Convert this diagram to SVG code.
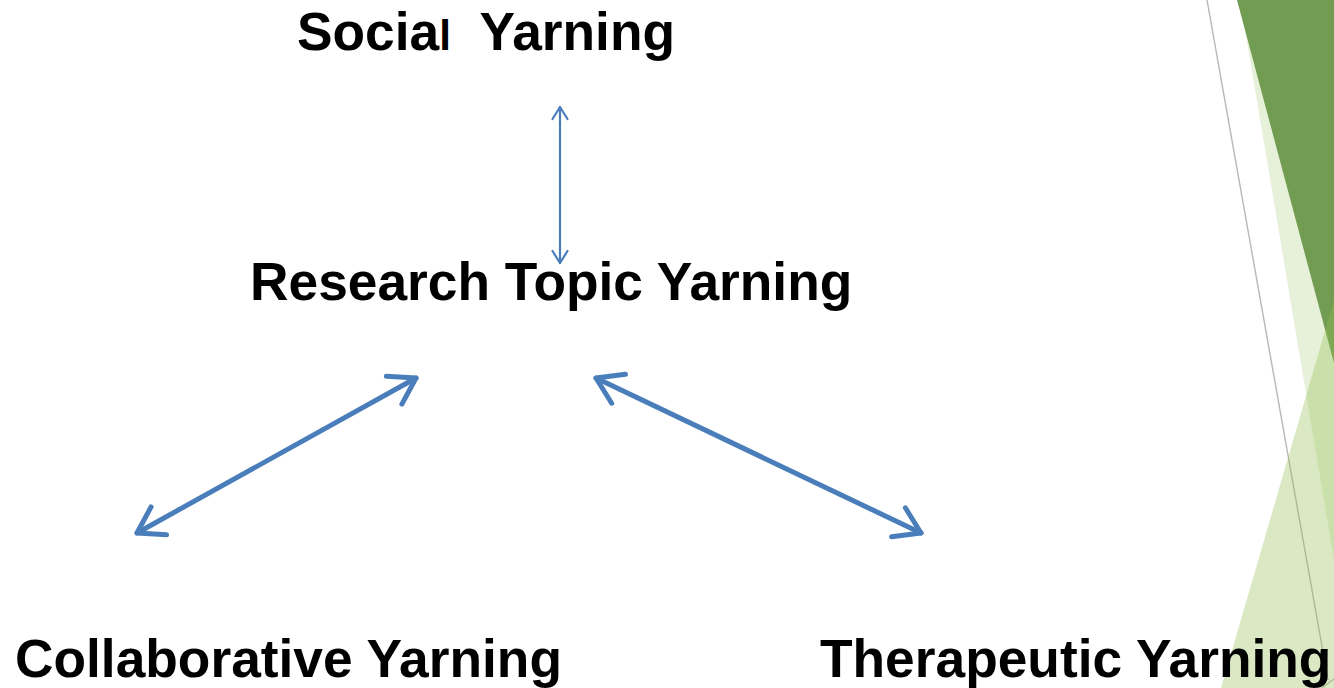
<svg xmlns="http://www.w3.org/2000/svg" width="1334" height="688" viewBox="0 0 1334 688">
  <style>
    .lbl { font-family: "Liberation Sans", Arial, sans-serif; font-weight: bold; font-size: 53.3px; fill: #000; }
    .conn { fill: none; stroke: #4a7ebb; stroke-linecap: round; stroke-linejoin: round; }
    .thick { stroke-width: 5; marker-start: url(#headThick); marker-end: url(#headThick); }
    .thin { stroke-width: 2.2; marker-start: url(#headThin); marker-end: url(#headThin); }
  </style>
  <defs>
    <marker id="headThick" markerUnits="userSpaceOnUse" viewBox="-30 -20 40 40" markerWidth="40" markerHeight="40" refX="0" refY="0" orient="auto-start-reverse" overflow="visible">
      <path d="M -25,-16 L 0,0 L -25,16" fill="none" stroke="#4a7ebb" stroke-width="5" stroke-linecap="round" stroke-linejoin="round"/>
    </marker>
    <marker id="headThin" markerUnits="userSpaceOnUse" viewBox="-15 -10 20 20" markerWidth="20" markerHeight="20" refX="0" refY="0" orient="auto-start-reverse" overflow="visible">
      <path d="M -12,-7.5 L 0,0 L -12,7.5" fill="none" stroke="#4a7ebb" stroke-width="2.2" stroke-linecap="round" stroke-linejoin="round"/>
    </marker>
  </defs>
  <rect width="1334" height="688" fill="#ffffff"/>
  <g id="decoration">
    <polygon points="1240,0 1334,0 1334,560" fill="#92be50" fill-opacity="0.22"/>
    <polygon points="1237,0 1334,0 1334,363" fill="#729c52"/>
    <line x1="1207" y1="0" x2="1328" y2="680" stroke="#b8b8b8" stroke-width="1.4"/>
    <line x1="1322" y1="688" x2="1334" y2="679" stroke="#b8b8b8" stroke-width="1.2"/>
    <polygon points="1221,688 1334,300 1334,688" fill="#92be50" fill-opacity="0.34"/>
  </g>
  <g id="connectors">
    <path class="conn thin" d="M 560,107 L 560,263"/>
    <path class="conn thick" d="M 137,533 L 416,378"/>
    <path class="conn thick" d="M 596,378 L 921,533"/>
  </g>
  <g id="node-social">
    <text class="lbl" x="297" y="50" xml:space="preserve">Socia<tspan font-size="42px">l</tspan>  Yarning</text>
  </g>
  <g id="node-research">
    <text class="lbl" x="250" y="300">Research Topic Yarning</text>
  </g>
  <g id="node-collaborative">
    <text class="lbl" x="15" y="677">Collaborative Yarning</text>
  </g>
  <g id="node-therapeutic">
    <text class="lbl" x="820" y="677">Therapeutic Yarning</text>
  </g>
</svg>
